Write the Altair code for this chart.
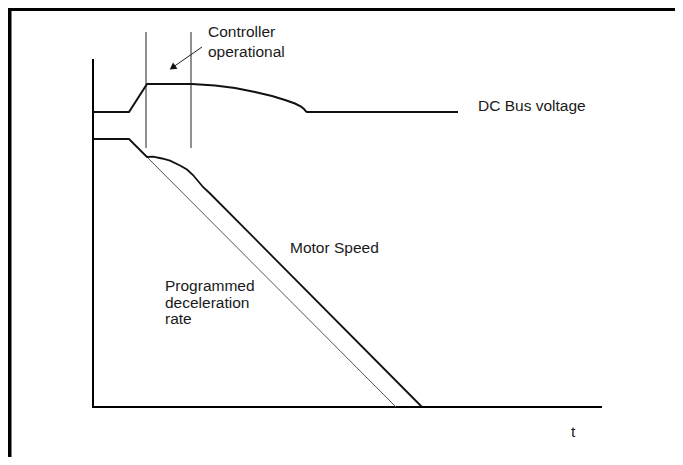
import altair as alt
import pandas as pd

# --- schematic data (t: time units, v: level units; origin at axes corner) ---
dc_t = [0, 36, 54, 99, 122, 142, 162, 179, 192, 202, 208, 211, 213, 214, 365]
dc_v = [295, 295, 323, 323, 321.5, 319, 315, 311, 307, 303.5, 300.5, 298, 295.5, 295, 295]

motor_t = [0, 36, 54, 60, 69, 77, 87, 94, 100, 105, 110, 117, 329]
motor_v = [268, 268, 250, 250.3, 248.5, 246.3, 241.5, 237.5, 232, 226, 220, 213.5, 0]

prog_t = [36, 303]
prog_v = [268, 0]

axis_t = [0, 0, 509]
axis_v = [348, 0, 0]

marker_t = [53, 98]          # controller operational window
marker_v_top = 375
marker_v_bot = 259

label_text = ["Controller", "operational", "DC Bus voltage", "Motor Speed",
              "Programmed", "deceleration", "rate", "t"]
label_t = [115, 115, 385, 197, 72, 72, 72, 478]
label_v = [370, 350, 296.5, 154, 116.3, 99.5, 83.5, -29.5]

arrow_t = [109, 79.5]
arrow_v = [360, 339.5]

XD = [-85, 582]
YD = [-50, 399]
xs = alt.Scale(domain=XD, nice=False, zero=False)
ys = alt.Scale(domain=YD, nice=False, zero=False)


def line_layer(ts, vs, color, width):
    df = pd.DataFrame({"t": ts, "v": vs, "i": list(range(len(ts)))})
    return alt.Chart(df).mark_line(color=color, strokeWidth=width, interpolate="linear",
                                   strokeCap="butt", strokeJoin="miter").encode(
        x=alt.X("t:Q", scale=xs, axis=None),
        y=alt.Y("v:Q", scale=ys, axis=None),
        order="i:O",
    )


# frame (top and left edges visible)
frame_top = alt.Chart(pd.DataFrame({"t": [XD[0]], "t2": [XD[1]], "v": [397.5]})).mark_rule(
    color="black", strokeWidth=3).encode(
    x=alt.X("t:Q", scale=xs, axis=None), x2="t2:Q", y=alt.Y("v:Q", scale=ys, axis=None))
frame_left = alt.Chart(pd.DataFrame({"t": [-83.25], "v": [YD[1]], "v2": [YD[0]]})).mark_rule(
    color="black", strokeWidth=3.5).encode(
    x=alt.X("t:Q", scale=xs, axis=None), y=alt.Y("v:Q", scale=ys, axis=None), y2="v2:Q")

axes = line_layer(axis_t, axis_v, "black", 2)
prog = line_layer(prog_t, prog_v, "#555555", 1)
motor = line_layer(motor_t, motor_v, "#111111", 1.8)
dc = line_layer(dc_t, dc_v, "#111111", 2)

markers = alt.Chart(pd.DataFrame({"t": marker_t, "v": [marker_v_top] * 2, "v2": [marker_v_bot] * 2})).mark_rule(
    color="#222222", strokeWidth=1).encode(
    x=alt.X("t:Q", scale=xs, axis=None), y=alt.Y("v:Q", scale=ys, axis=None), y2="v2:Q")

arrow_line = line_layer(arrow_t, arrow_v, "#222222", 1)
arrow_head = alt.Chart(pd.DataFrame({"t": [arrow_t[1]], "v": [arrow_v[1]]})).mark_point(
    shape="triangle-up", filled=True, color="#111111", size=60, angle=235, opacity=1).encode(
    x=alt.X("t:Q", scale=xs, axis=None), y=alt.Y("v:Q", scale=ys, axis=None))

labels = alt.Chart(pd.DataFrame({"text": label_text, "t": label_t, "v": label_v})).mark_text(
    align="left", baseline="alphabetic", font="Liberation Sans", fontSize=15.5, color="#1a1a1a").encode(
    x=alt.X("t:Q", scale=xs, axis=None), y=alt.Y("v:Q", scale=ys, axis=None), text="text:N")

chart = alt.layer(frame_top, frame_left, axes, prog, motor, dc, markers,
                  arrow_line, arrow_head, labels).properties(
    width=667, height=449, padding=0, autosize="none", background="white"
).configure_view(strokeWidth=0)

chart.save("out.html", embed_options={"renderer": "svg", "actions": False})
